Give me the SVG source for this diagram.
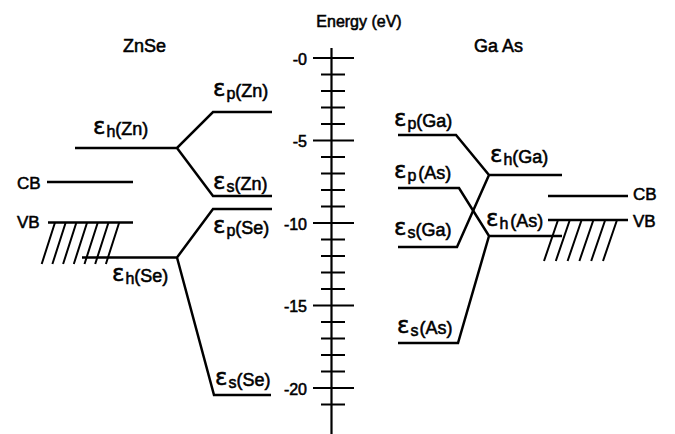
<svg xmlns="http://www.w3.org/2000/svg" width="675" height="434" viewBox="0 0 675 434">
<style>
text{font-family:"Liberation Sans",Arial,sans-serif;fill:#000;stroke:#000;stroke-width:0.55;font-size:17px}
.title{font-size:18px}
.ax{font-size:16px;text-anchor:end}
.lb{font-size:18px}
.eps{font-family:"DejaVu Sans",sans-serif;font-size:23px}
.sub{font-size:16px}
.lv{fill:none;stroke:#000;stroke-width:2.5;stroke-linejoin:miter}
.tk{fill:none;stroke:#000;stroke-width:2.2}
.ht{fill:none;stroke:#000;stroke-width:2}
</style>
<rect width="675" height="434" fill="#fff"/>

<g id="axis">
<text x="359" y="27" text-anchor="middle" style="font-size:16px">Energy (eV)</text>
<path class="tk" d="M331.5 48V434"/>
<path class="tk" d="M313 58H354M313 140.5H354M313 223H354M313 305.5H354M313 388H354"/>
<path class="tk" d="M321 74.5H345M321 91H345M321 107.5H345M321 124H345M321 157H345M321 173.5H345M321 190H345M321 206.5H345M321 239.5H345M321 256H345M321 272.5H345M321 289H345M321 322H345M321 338.5H345M321 355H345M321 371.5H345M321 404.5H345"/>
<text class="ax" x="307" y="64.5">-0</text>
<text class="ax" x="307" y="147">-5</text>
<text class="ax" x="307" y="229.5">-10</text>
<text class="ax" x="307" y="312">-15</text>
<text class="ax" x="307" y="394.5">-20</text>
</g>

<g id="znse-title"><text class="title" x="144.5" y="52" text-anchor="middle">ZnSe</text></g>
<g id="gaas-title"><text class="title" x="498.5" y="52" text-anchor="middle">Ga As</text></g>

<g id="connectors">
<path class="lv" d="M75 148H177L213 112H272M177 148L213 196H272"/>
<path class="lv" d="M82 257.5H177L213 209H272M177 257.5L214 395H271"/>
<path class="lv" d="M398 135H456L489 175H562M398 247H457L489 175"/>
<path class="lv" d="M398 188H459L489 236H562M398 343H458L489 236"/>
</g>

<g id="znse-cb"><path class="lv" d="M47 182H133"/><text x="17" y="189">CB</text></g>
<g id="znse-vb"><path class="lv" d="M48 222.5H133"/><text x="17" y="228">VB</text>
<path class="ht" d="M55 222.5L41.7 264M65.7 222.5L52.4 264M76.4 222.5L63.1 264M87.1 222.5L73.8 264M97.8 222.5L84.5 264M108.5 222.5L95.2 264M119.2 222.5L105.9 264"/></g>

<g id="gaas-cb"><path class="lv" d="M548 196H628"/><text x="633" y="200">CB</text></g>
<g id="gaas-vb"><path class="lv" d="M548 220H628"/><text x="633" y="227">VB</text>
<path class="ht" d="M558 220L544 261M569.8 220L555.8 261M581.6 220L567.6 261M593.4 220L579.4 261M605.2 220L591.2 261M617 220L603 261"/></g>

<g id="ep-zn"><text class="lb" x="213" y="96"><tspan class="eps">ε</tspan><tspan class="sub" dx="1" dy="3">p</tspan><tspan dy="-2">(Zn)</tspan></text></g>
<g id="eh-zn"><text class="lb" x="93" y="134"><tspan class="eps">ε</tspan><tspan class="sub" dx="1" dy="3">h</tspan><tspan dy="-2">(Zn)</tspan></text></g>
<g id="es-zn"><text class="lb" x="213" y="189"><tspan class="eps">ε</tspan><tspan class="sub" dx="1" dy="3">s</tspan><tspan dy="-2">(Zn)</tspan></text></g>
<g id="ep-se"><text class="lb" x="213" y="233"><tspan class="eps">ε</tspan><tspan class="sub" dx="1" dy="3">p</tspan><tspan dy="-2">(Se)</tspan></text></g>
<g id="eh-se"><text class="lb" x="112" y="281"><tspan class="eps">ε</tspan><tspan class="sub" dx="1" dy="3">h</tspan><tspan dy="-2">(Se)</tspan></text></g>
<g id="es-se"><text class="lb" x="215" y="385"><tspan class="eps">ε</tspan><tspan class="sub" dx="1" dy="3">s</tspan><tspan dy="-2">(Se)</tspan></text></g>

<g id="ep-ga"><text class="lb" x="394" y="126"><tspan class="eps">ε</tspan><tspan class="sub" dx="1" dy="3">p</tspan><tspan dy="-2">(Ga)</tspan></text></g>
<g id="eh-ga"><text class="lb" x="490" y="162"><tspan class="eps">ε</tspan><tspan class="sub" dx="1" dy="3">h</tspan><tspan dy="-2">(Ga)</tspan></text></g>
<g id="ep-as"><text class="lb" x="394" y="178"><tspan class="eps">ε</tspan><tspan class="sub" dx="1" dy="3">p</tspan><tspan dx="2" dy="-2">(As)</tspan></text></g>
<g id="es-ga"><text class="lb" x="394" y="235"><tspan class="eps">ε</tspan><tspan class="sub" dx="1" dy="3">s</tspan><tspan dy="-2">(Ga)</tspan></text></g>
<g id="eh-as"><text class="lb" x="486" y="226"><tspan class="eps">ε</tspan><tspan class="sub" dx="1" dy="3">h</tspan><tspan dx="2" dy="-2">(As)</tspan></text></g>
<g id="es-as"><text class="lb" x="397" y="333"><tspan class="eps">ε</tspan><tspan class="sub" dx="1" dy="3">s</tspan><tspan dx="1" dy="-2">(As)</tspan></text></g>
</svg>
